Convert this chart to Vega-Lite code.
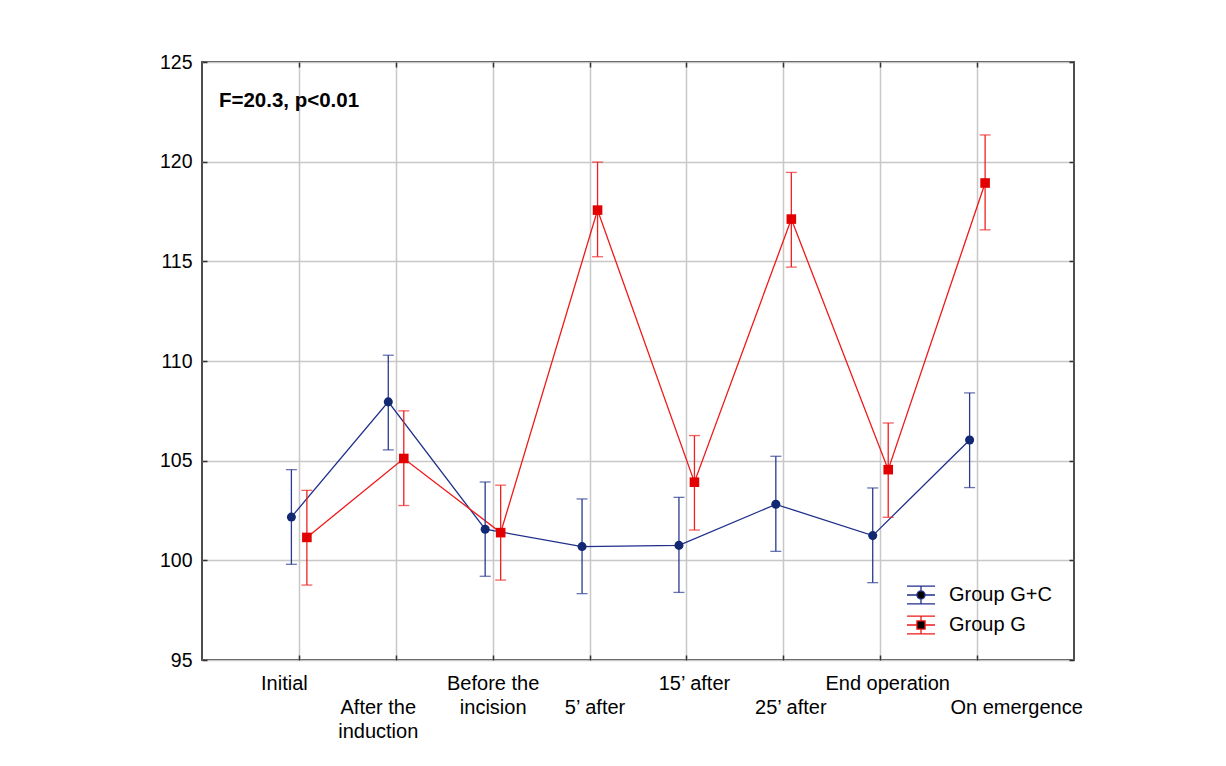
{
  "$schema": "https://vega.github.io/schema/vega-lite/v6.json",
  "width": 872,
  "height": 598,
  "autosize": "none",
  "padding": {"left": 202, "top": 62, "right": 152, "bottom": 106},
  "background": "white",
  "datasets": {
    "stats": [
      {"time": "Initial", "group": "Group G+C", "mean": 102.17, "lower": 99.80, "upper": 104.55},
      {"time": "After the induction", "group": "Group G+C", "mean": 107.95, "lower": 105.54, "upper": 110.29},
      {"time": "Before the incision", "group": "Group G+C", "mean": 101.56, "lower": 99.20, "upper": 103.93},
      {"time": "5’ after", "group": "Group G+C", "mean": 100.69, "lower": 98.33, "upper": 103.08},
      {"time": "15’ after", "group": "Group G+C", "mean": 100.75, "lower": 98.39, "upper": 103.16},
      {"time": "25’ after", "group": "Group G+C", "mean": 102.81, "lower": 100.45, "upper": 105.22},
      {"time": "End operation", "group": "Group G+C", "mean": 101.24, "lower": 98.88, "upper": 103.63},
      {"time": "On emergence", "group": "Group G+C", "mean": 106.04, "lower": 103.65, "upper": 108.40},
      {"time": "Initial", "group": "Group G", "mean": 101.15, "lower": 98.76, "upper": 103.51},
      {"time": "After the induction", "group": "Group G", "mean": 105.11, "lower": 102.75, "upper": 107.50},
      {"time": "Before the incision", "group": "Group G", "mean": 101.39, "lower": 99.01, "upper": 103.77},
      {"time": "5’ after", "group": "Group G", "mean": 117.57, "lower": 115.23, "upper": 119.98},
      {"time": "15’ after", "group": "Group G", "mean": 103.92, "lower": 101.52, "upper": 106.26},
      {"time": "25’ after", "group": "Group G", "mean": 117.12, "lower": 114.71, "upper": 119.46},
      {"time": "End operation", "group": "Group G", "mean": 104.55, "lower": 102.16, "upper": 106.89},
      {"time": "On emergence", "group": "Group G", "mean": 118.93, "lower": 116.58, "upper": 121.34}
    ]
  },
  "layer": [
    {
      "data": {"name": "stats"},
      "encoding": {
        "x": {
          "field": "time",
          "type": "ordinal",
          "scale": {"type": "point", "padding": 1, "domain": ["Initial", "After the induction", "Before the incision", "5’ after", "15’ after", "25’ after", "End operation", "On emergence"]},
          "axis": {
            "orient": "bottom",
            "title": null,
            "domain": false,
            "grid": true,
            "gridColor": "#c8c8c8",
            "gridWidth": 1.5,
            "ticks": true,
            "tickSize": -5,
            "tickColor": "#333333",
            "tickWidth": 1.5,
            "labelAngle": 0,
            "labelAlign": "center",
            "labelBaseline": "top",
            "labelPadding": 18,
            "labelFont": "Liberation Sans",
            "labelFontSize": 20,
            "labelColor": "black",
            "labelLineHeight": 24,
            "labelOverlap": false,
            "labelBound": false,
            "labelFlush": false,
            "zindex": 0,
            "labelExpr": "datum.value === 'After the induction' ? [' ', 'After the', 'induction'] : datum.value === 'Before the incision' ? ['Before the', 'incision'] : (datum.value === '5’ after' || datum.value === '25’ after' || datum.value === 'On emergence') ? [' ', datum.value] : datum.value",
            "labelOffset": {
              "condition": [
                {"test": "datum.value === 'Initial'", "value": -15},
                {"test": "datum.value === 'After the induction'", "value": -18},
                {"test": "datum.value === '5’ after'", "value": 5},
                {"test": "datum.value === '15’ after'", "value": 7.5},
                {"test": "datum.value === '25’ after'", "value": 7},
                {"test": "datum.value === 'End operation'", "value": 7},
                {"test": "datum.value === 'On emergence'", "value": 39}
              ],
              "value": 0
            }
          }
        },
        "y": {
          "field": "mean",
          "type": "quantitative",
          "scale": {"domain": [95, 125], "nice": false, "zero": false},
          "axis": {
            "orient": "left",
            "title": null,
            "domain": false,
            "values": [95, 100, 105, 110, 115, 120, 125],
            "grid": true,
            "gridColor": "#c8c8c8",
            "gridWidth": 1.5,
            "ticks": true,
            "tickSize": -5,
            "tickColor": "#333333",
            "tickWidth": 1.5,
            "labelPadding": 15,
            "labelFont": "Liberation Sans",
            "labelFontSize": 19.5,
            "labelColor": "black",
            "zindex": 0
          }
        }
      },
      "layer": [
        {
          "transform": [{"filter": "datum.group === 'Group G+C'"}],
          "mark": {"type": "line", "color": "#1f2f8a", "strokeWidth": 1.3, "xOffset": -7.5}
        },
        {
          "transform": [{"filter": "datum.group === 'Group G'"}],
          "mark": {"type": "line", "color": "#f01818", "strokeWidth": 1.3, "xOffset": 8}
        },
        {
          "transform": [{"filter": "datum.group === 'Group G+C'"}],
          "mark": {"type": "rule", "color": "#2a3a90", "strokeWidth": 1.3, "xOffset": -7.5},
          "encoding": {"y": {"field": "lower", "type": "quantitative"}, "y2": {"field": "upper"}}
        },
        {
          "transform": [{"filter": "datum.group === 'Group G+C'"}],
          "mark": {"type": "tick", "orient": "horizontal", "color": "#2a3a90", "size": 11, "thickness": 1.3, "xOffset": -7.5},
          "encoding": {"y": {"field": "lower", "type": "quantitative"}}
        },
        {
          "transform": [{"filter": "datum.group === 'Group G+C'"}],
          "mark": {"type": "tick", "orient": "horizontal", "color": "#2a3a90", "size": 11, "thickness": 1.3, "xOffset": -7.5},
          "encoding": {"y": {"field": "upper", "type": "quantitative"}}
        },
        {
          "transform": [{"filter": "datum.group === 'Group G'"}],
          "mark": {"type": "rule", "color": "#f02020", "strokeWidth": 1.3, "xOffset": 8},
          "encoding": {"y": {"field": "lower", "type": "quantitative"}, "y2": {"field": "upper"}}
        },
        {
          "transform": [{"filter": "datum.group === 'Group G'"}],
          "mark": {"type": "tick", "orient": "horizontal", "color": "#f02020", "size": 11, "thickness": 1.3, "xOffset": 8},
          "encoding": {"y": {"field": "lower", "type": "quantitative"}}
        },
        {
          "transform": [{"filter": "datum.group === 'Group G'"}],
          "mark": {"type": "tick", "orient": "horizontal", "color": "#f02020", "size": 11, "thickness": 1.3, "xOffset": 8},
          "encoding": {"y": {"field": "upper", "type": "quantitative"}}
        },
        {
          "transform": [{"filter": "datum.group === 'Group G+C'"}],
          "mark": {"type": "point", "shape": "circle", "filled": true, "opacity": 1, "size": 82, "color": "#132873", "xOffset": -7.5}
        },
        {
          "transform": [{"filter": "datum.group === 'Group G'"}],
          "mark": {"type": "point", "shape": "square", "filled": true, "opacity": 1, "size": 92, "color": "#e20000", "xOffset": 8}
        },
        {
          "data": {"values": [{"time": "Initial", "mean": 122.73, "label": "F=20.3, p<0.01"}]},
          "mark": {"type": "text", "align": "left", "baseline": "alphabetic", "dx": -80, "font": "Liberation Sans", "fontSize": 20.5, "fontWeight": "bold", "color": "black"},
          "encoding": {"text": {"field": "label"}}
        }
      ]
    },
    {
      "data": {"name": "stats"},
      "mark": {"type": "point", "opacity": 0, "fill": "black", "filled": false},
      "encoding": {
        "x": {
          "field": "time",
          "type": "ordinal",
          "axis": {"orient": "top", "title": null, "domain": false, "grid": false, "labels": false, "ticks": true, "tickSize": -5, "tickColor": "#333333", "tickWidth": 1.5}
        },
        "y": {
          "field": "mean",
          "type": "quantitative",
          "axis": {"orient": "right", "title": null, "domain": false, "grid": false, "labels": false, "ticks": true, "tickSize": -5, "tickColor": "#333333", "tickWidth": 1.5, "values": [95, 100, 105, 110, 115, 120, 125]}
        },
        "stroke": {
          "field": "group",
          "type": "nominal",
          "scale": {"domain": ["Group G+C", "Group G"], "range": ["#1f2f8a", "#f01818"]},
          "legend": {
            "title": null,
            "orient": "none",
            "legendX": 704,
            "legendY": 518,
            "padding": 0,
            "symbolSize": 784,
            "symbolStrokeWidth": 1.3,
            "symbolOpacity": 1,
            "labelFont": "Liberation Sans",
            "labelFontSize": 20,
            "labelColor": "black",
            "labelOffset": 13,
            "rowPadding": 3
          }
        },
        "shape": {
          "field": "group",
          "type": "nominal",
          "scale": {"domain": ["Group G+C", "Group G"], "range": ["M-1,-0.63H1M-1,0.63H1M-1,0H-0.29M0.29,0H1M0,-0.63V-0.29M0,0.29V0.63M-0.29,0A0.29,0.29,0,1,0,0.29,0A0.29,0.29,0,1,0,-0.29,0Z", "M-1,-0.63H1M-1,0.63H1M-1,0H-0.29M0.29,0H1M0,-0.63V-0.29M0,0.29V0.63M-0.29,-0.29H0.29V0.29H-0.29Z"]},
          "legend": {
            "title": null,
            "orient": "none",
            "legendX": 704,
            "legendY": 518,
            "padding": 0,
            "symbolSize": 784,
            "symbolStrokeWidth": 1.3,
            "symbolOpacity": 1,
            "labelFont": "Liberation Sans",
            "labelFontSize": 20,
            "labelColor": "black",
            "labelOffset": 13,
            "rowPadding": 3
          }
        }
      }
    }
  ],
  "resolve": {"axis": {"x": "independent", "y": "independent"}},
  "config": {
    "view": {"stroke": "#4d4d4d", "strokeWidth": 2},
    "font": "Liberation Sans"
  }
}
